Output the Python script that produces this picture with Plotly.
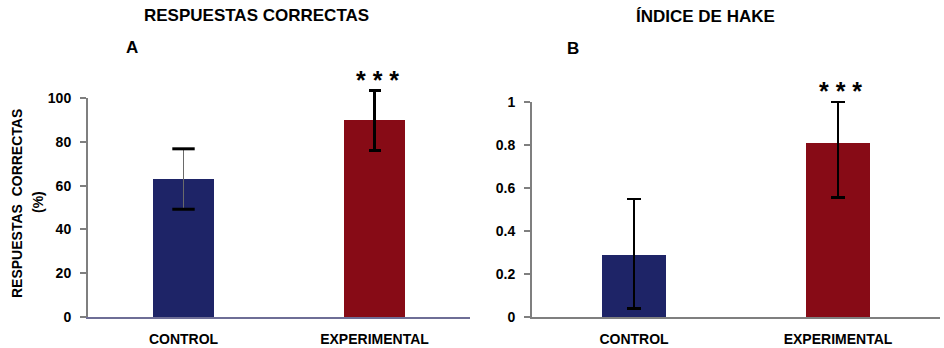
import plotly.graph_objects as go

categories = ["CONTROL", "EXPERIMENTAL"]
resp_values = [63, 90]
resp_err_plus = [13.8, 13.5]
resp_err_minus = [13.8, 13.8]
hake_values = [0.29, 0.81]
hake_err_plus = [0.26, 0.19]
hake_err_minus = [0.25, 0.255]
resp_ticks = [0, 20, 40, 60, 80, 100]
hake_ticks = [0, 0.2, 0.4, 0.6, 0.8, 1]
colors = ["#1E2467", "#870B16"]

FONT = "Liberation Sans, Arial, sans-serif"
W, H = 944, 348

def px(x):
    return x / W

def py(y):
    return (H - y) / H

fig = go.Figure()

# Panel A traces live on a hidden axis pair (x3/y3) with the same pixel scale
# but extra headroom so the error bar above 100 is not clipped.
fig.add_trace(go.Bar(
    x=[0], y=[resp_values[0]], marker_color=colors[0], width=0.32,
    marker_line_width=0,
    error_y=dict(type="data", symmetric=False, array=[resp_err_plus[0]],
                 arrayminus=[resp_err_minus[0]], color="#6A6A6A", thickness=1.2, width=0),
    xaxis="x3", yaxis="y3", showlegend=False))
fig.add_trace(go.Scatter(
    x=[0, 0], y=[resp_values[0] + resp_err_plus[0], resp_values[0] - resp_err_minus[0]],
    mode="markers", marker=dict(symbol="line-ew", size=16, line=dict(width=3, color="black")),
    xaxis="x3", yaxis="y3", showlegend=False, hoverinfo="skip"))
fig.add_trace(go.Bar(
    x=[1], y=[resp_values[1]], marker_color=colors[1], width=0.32,
    marker_line_width=0,
    error_y=dict(type="data", symmetric=False, array=[resp_err_plus[1]],
                 arrayminus=[resp_err_minus[1]], color="black", thickness=3, width=6),
    xaxis="x3", yaxis="y3", showlegend=False))

# Panel B
fig.add_trace(go.Bar(
    x=[0, 1], y=hake_values, marker_color=colors, width=0.31,
    marker_line_width=0,
    error_y=dict(type="data", symmetric=False, array=hake_err_plus,
                 arrayminus=hake_err_minus, color="black", thickness=2.5, width=7),
    xaxis="x4", yaxis="y4", showlegend=False))

# invisible anchor traces so the visible axes are drawn
fig.add_trace(go.Scatter(x=[0], y=[0], mode="markers", marker=dict(opacity=0),
                         xaxis="x", yaxis="y", showlegend=False, hoverinfo="skip"))
fig.add_trace(go.Scatter(x=[0], y=[0], mode="markers", marker=dict(opacity=0),
                         xaxis="x2", yaxis="y2", showlegend=False, hoverinfo="skip"))

tickfont = dict(family=FONT, size=14, color="black")
catfont = dict(family=FONT, size=14, color="black")

A_X = [px(88), px(470)]
B_X = [px(532), px(940)]
A_Y0, A_Y100 = 317, 98
B_Y0, B_Y1 = 317, 102
A_EXTRA = 110
B_EXTRA = 1.1

hidden = dict(visible=False, showgrid=False, zeroline=False, automargin=False)

fig.update_layout(
    width=W, height=H,
    margin=dict(l=0, r=0, t=0, b=0, autoexpand=False),
    paper_bgcolor="white", plot_bgcolor="rgba(0,0,0,0)",
    bargap=0,
    xaxis=dict(domain=A_X, range=[-0.5, 1.5],
               tickvals=[0, 1], ticktext=["<b>%s</b>" % c for c in categories],
               tickfont=catfont, showline=True, linecolor="#6E6E96", linewidth=2,
               ticks="", showgrid=False, zeroline=False, anchor="y",
               ticklabelstandoff=8, automargin=False),
    yaxis=dict(domain=[py(A_Y0), py(A_Y100)], range=[0, 100],
               tickvals=resp_ticks, ticktext=["<b>%s</b>" % t for t in resp_ticks],
               tickfont=tickfont, showline=True, linecolor="#7F7F7F", linewidth=2,
               ticks="outside", ticklen=6, tickcolor="#7F7F7F", tickwidth=1.5,
               showgrid=False, zeroline=False, anchor="x", ticklabelstandoff=6,
               automargin=False),
    xaxis2=dict(domain=B_X, range=[-0.5, 1.5],
                tickvals=[0, 1], ticktext=["<b>%s</b>" % c for c in categories],
                tickfont=catfont, showline=True, linecolor="#7F7F7F", linewidth=2,
                ticks="", showgrid=False, zeroline=False, anchor="y2",
                ticklabelstandoff=8, automargin=False),
    yaxis2=dict(domain=[py(B_Y0), py(B_Y1)], range=[0, 1],
                tickvals=hake_ticks, ticktext=["<b>%s</b>" % t for t in hake_ticks],
                tickfont=tickfont, showline=True, linecolor="#7F7F7F", linewidth=2,
                ticks="outside", ticklen=6, tickcolor="#7F7F7F", tickwidth=1.5,
                showgrid=False, zeroline=False, anchor="x2", ticklabelstandoff=6,
                automargin=False),
    xaxis3=dict(domain=A_X, range=[-0.5, 1.5], anchor="y3", **hidden),
    yaxis3=dict(domain=[py(A_Y0), py(A_Y0 - (A_Y0 - A_Y100) * A_EXTRA / 100)],
                range=[0, A_EXTRA], anchor="x3", **hidden),
    xaxis4=dict(domain=B_X, range=[-0.5, 1.5], anchor="y4", **hidden),
    yaxis4=dict(domain=[py(B_Y0), py(B_Y0 - (B_Y0 - B_Y1) * B_EXTRA)],
                range=[0, B_EXTRA], anchor="x4", **hidden),
)

def ann(text, x, y, size, **kw):
    fig.add_annotation(text=text, x=px(x), y=py(y), xref="paper", yref="paper",
                       showarrow=False, font=dict(family=FONT, size=size, color="black"),
                       xanchor="center", yanchor="middle", **kw)

ann("<b>RESPUESTAS CORRECTAS</b>", 256, 15, 17)
ann("<b>A</b>", 132, 47, 17)
ann("<b>ÍNDICE DE HAKE</b>", 705, 17, 17)
ann("<b>B</b>", 573, 49, 17)
ann("<b>* * *</b>", 377, 80, 25)
ann("<b>* * *</b>", 840, 91, 25)
ann("<b>RESPUESTAS  CORRECTAS</b>", 17, 204, 14, textangle=-90)
ann("<b>(%)</b>", 38, 202, 14, textangle=-90)

fig.write_html("out.html", config={"displayModeBar": False},
               post_script="document.body.style.margin='0';document.body.style.overflow='hidden';")
